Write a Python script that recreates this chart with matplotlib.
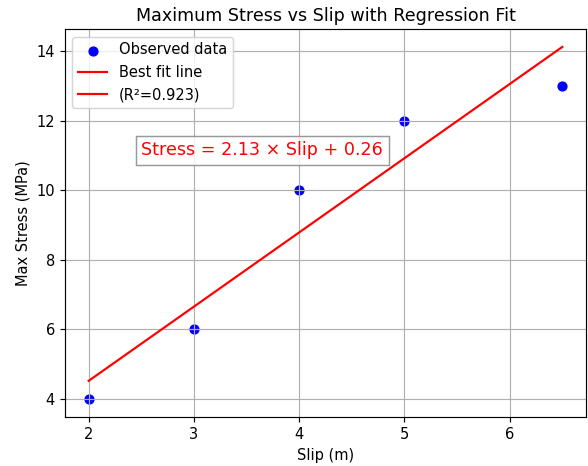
import numpy as np
import matplotlib
matplotlib.use("Agg")
import matplotlib.pyplot as plt

slip = np.array([2, 3, 4, 5, 6.5])
stress = np.array([4, 6, 10, 12, 13])

slope, intercept = np.polyfit(slip, stress, 1)
pred = slope * slip + intercept
r2 = 1 - np.sum((stress - pred) ** 2) / np.sum((stress - stress.mean()) ** 2)

DPI = 105
W, H = 588, 466
fig = plt.figure(figsize=(W / DPI, H / DPI), dpi=DPI)
left, right, top, bottom = 65, 586, 29.3, 416.7
ax = fig.add_axes([left / W, (H - bottom) / H, (right - left) / W, (bottom - top) / H])
ax.scatter(slip, stress, color="blue", label="Observed data")
ax.plot(slip, pred, color="red", label="Best fit line")
ax.plot([], [], color="red", label=f"(R²={r2:.3f})")
ax.text(2.5, 11, f"Stress = {slope:.2f} × Slip + {intercept:.2f}", color="red", fontsize=12,
        bbox=dict(facecolor="white", edgecolor="gray", alpha=0.8))
ax.set_xlabel("Slip (m)")
ax.set_ylabel("Max Stress (MPa)")
ax.set_title("Maximum Stress vs Slip with Regression Fit")
ax.legend(loc="upper left")
ax.grid(True)
fig.savefig("out.png", dpi=DPI)
